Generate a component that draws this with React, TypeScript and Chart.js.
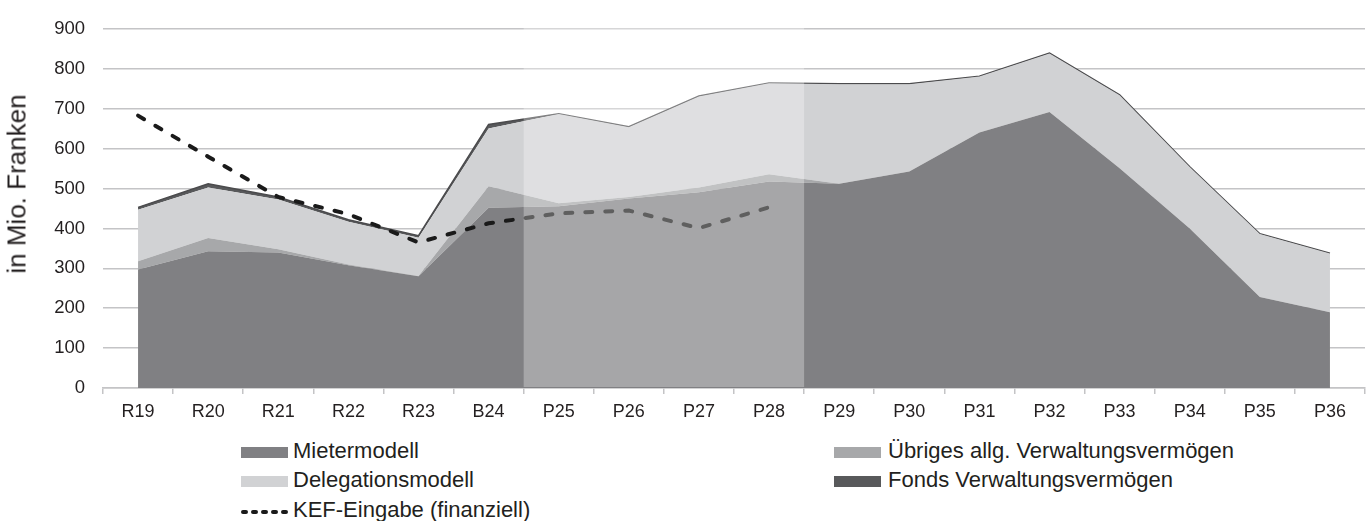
import React, { useEffect, useRef } from "react";
import { Chart, registerables } from "chart.js";

Chart.register(...registerables);

const categories = ["R19", "R20", "R21", "R22", "R23", "B24", "P25", "P26", "P27", "P28", "P29", "P30", "P31", "P32", "P33", "P34", "P35", "P36"];
const mietermodell = [297, 343, 340, 308, 280, 452, 456, 475, 491, 518, 512, 543, 641, 692, 551, 400, 228, 190];
const uebriges = [21, 33, 8, 2, 1, 54, 7, 4, 12, 18, 0, 0, 0, 0, 0, 0, 0, 0];
const delegationsmodell = [129, 127, 125, 107, 96, 145, 224, 175, 228, 228, 250, 219, 140, 147, 183, 154, 158, 147];
const fonds = [6, 9, 6, 5, 5, 10, 1, 1, 1, 1, 1, 1, 1, 1, 1, 1, 1, 1];
const kef = [683, 580, 479, 436, 365, 413, 438, 445, 401, 453, null, null, null, null, null, null, null, null];
const shadedCategories = ["P25", "P26", "P27", "P28"];
const yTicks = [0, 100, 200, 300, 400, 500, 600, 700, 800, 900];

const C_MIETER = "#808083";
const C_UEBRIG = "#a7a8aa";
const C_DELEG = "#d1d2d4";
const C_FONDS = "#58595b";
const TEXT = "#231f20";
const FONT = "'Liberation Sans', Arial, Helvetica, sans-serif";

const shadePlugin = {
  id: "shade",
  afterDatasetsDraw(chart: any) {
    const x = chart.scales.x;
    const area = chart.chartArea;
    const first = categories.indexOf(shadedCategories[0]);
    const last = categories.indexOf(shadedCategories[shadedCategories.length - 1]);
    const x0 = x.getPixelForValue(first - 0.5);
    const x1 = x.getPixelForValue(last + 0.5);
    const ctx = chart.ctx;
    ctx.save();
    ctx.fillStyle = "rgba(255,255,255,0.3)";
    ctx.fillRect(x0, area.top - 2, x1 - x0, area.bottom - area.top + 1);
    ctx.restore();
  },
};

export default function App() {
  const ref = useRef<HTMLCanvasElement>(null);

  useEffect(() => {
    document.body.style.margin = "0";
    const ctx = ref.current!;
    const chart = new Chart(ctx, {
      type: "line",
      data: {
        labels: categories,
        datasets: [
          { label: "Mietermodell", data: mietermodell, backgroundColor: C_MIETER, borderWidth: 0, fill: "origin", pointRadius: 0 },
          { label: "Übriges allg. Verwaltungsvermögen", data: uebriges, backgroundColor: C_UEBRIG, borderWidth: 0, fill: "-1", pointRadius: 0 },
          { label: "Delegationsmodell", data: delegationsmodell, backgroundColor: C_DELEG, borderWidth: 0, fill: "-1", pointRadius: 0 },
          { label: "Fonds Verwaltungsvermögen", data: fonds, backgroundColor: C_FONDS, borderColor: "#4b4b4d", borderWidth: 1.5, fill: "-1", pointRadius: 0 },
          {
            label: "KEF-Eingabe (finanziell)",
            data: kef as any,
            stack: "kef",
            order: -1,
            borderColor: "#1a1a1a",
            borderWidth: 4,
            borderDash: [7, 13],
            borderCapStyle: "round",
            fill: false,
            pointRadius: 0,
            spanGaps: false,
          } as any,
        ],
      },
      options: {
        responsive: false,
        animation: false,
        devicePixelRatio: 1,
        layout: { padding: { left: 0, right: 6, top: 21, bottom: 0 } },
        plugins: { legend: { display: false }, tooltip: { enabled: false } },
        scales: {
          x: {
            type: "category",
            offset: true,
            grid: { display: true, drawOnChartArea: false, drawTicks: true, tickLength: 6, color: "#c4c4c6", lineWidth: 1.5, offset: true },
            border: { display: true, color: "#c4c4c6", width: 1.5 },
            ticks: { color: TEXT, font: { family: FONT, size: 18 }, padding: 7, maxRotation: 0, autoSkip: false },
            afterFit(scale: any) { scale.height = 42; },
          },
          y: {
            stacked: true,
            min: 0,
            max: 900,
            afterBuildTicks(scale: any) { scale.ticks = yTicks.map((v) => ({ value: v })); },
            grid: { color: "#c4c4c6", lineWidth: 1.5, drawTicks: false },
            border: { display: false },
            ticks: { color: TEXT, font: { family: FONT, size: 18.5 }, padding: 18 },
            afterFit(scale: any) { scale.width = 103; },
          },
        },
      },
      plugins: [shadePlugin],
    });
    return () => chart.destroy();
  }, []);

  const legendText: React.CSSProperties = { position: "absolute", fontFamily: FONT, fontSize: 22, color: TEXT, lineHeight: "22px", whiteSpace: "nowrap" };
  const box = (left: number, cy: number, color: string) => (
    <div style={{ position: "absolute", left, top: cy - 5.5, width: 47, height: 11, background: color }} />
  );
  const r1 = 452.7;
  const r2 = 481.7;
  const r3 = 511.7;
  const tOff = 12.5;

  return (
    <div style={{ position: "relative", width: 1371, height: 521, background: "#fff", overflow: "hidden" }}>
      <canvas ref={ref} width={1371} height={430} style={{ display: "block" }} />
      <div
        style={{
          position: "absolute",
          left: 16.7,
          top: 184,
          transform: "translate(-50%, -50%) rotate(-90deg)",
          fontFamily: FONT,
          fontSize: 26,
          color: TEXT,
          whiteSpace: "nowrap",
        }}
      >
        in Mio. Franken
      </div>
      {box(241, r1, C_MIETER)}
      <div style={{ ...legendText, left: 293, top: r1 - tOff }}>Mietermodell</div>
      {box(834, r1, C_UEBRIG)}
      <div style={{ ...legendText, left: 888, top: r1 - tOff }}>Übriges allg. Verwaltungsvermögen</div>
      {box(241, r2, C_DELEG)}
      <div style={{ ...legendText, left: 293, top: r2 - tOff }}>Delegationsmodell</div>
      {box(834, r2, C_FONDS)}
      <div style={{ ...legendText, left: 888, top: r2 - tOff }}>Fonds Verwaltungsvermögen</div>
      <svg style={{ position: "absolute", left: 238, top: r3 - 5 }} width={54} height={10}>
        <line x1={5} y1={5} x2={49} y2={5} stroke="#1a1a1a" strokeWidth={4} strokeLinecap="round" strokeDasharray="3 7" />
      </svg>
      <div style={{ ...legendText, left: 293, top: r3 - tOff }}>KEF-Eingabe (finanziell)</div>
    </div>
  );
}
